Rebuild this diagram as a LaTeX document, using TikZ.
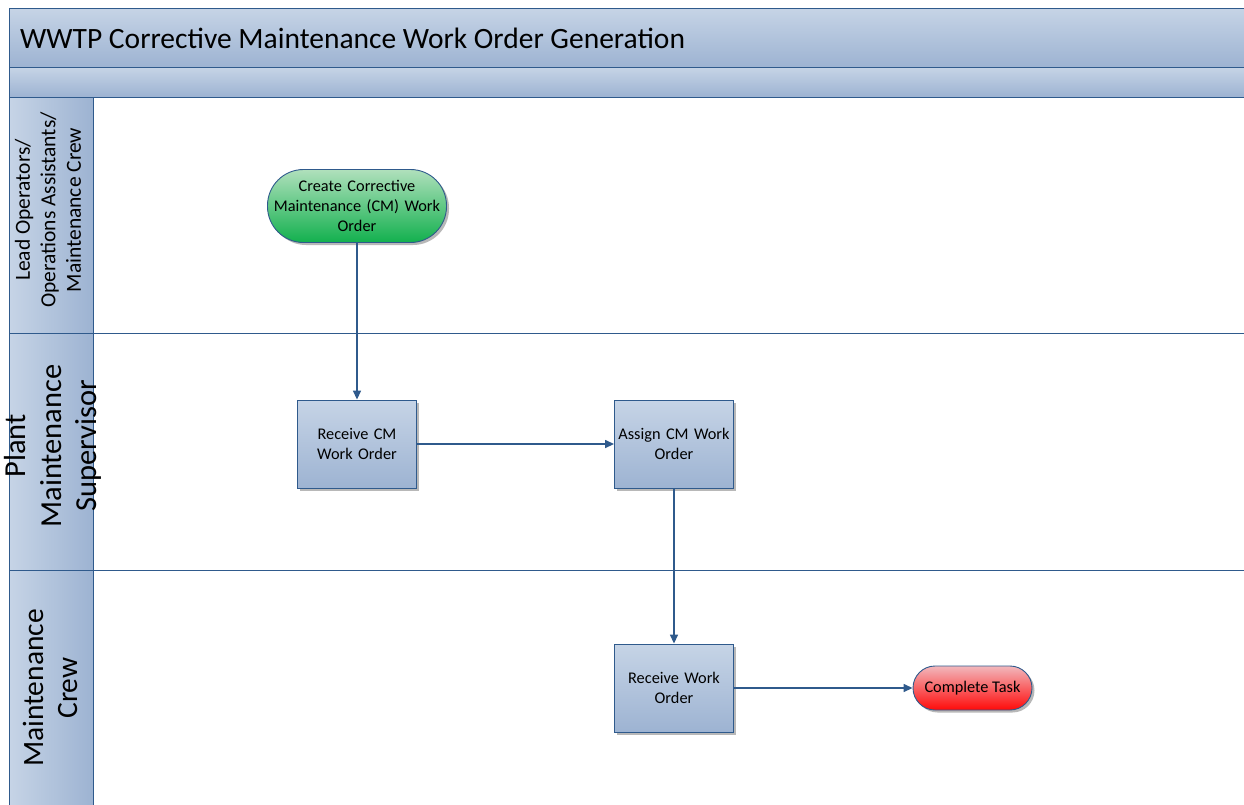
\documentclass[tikz,border=0pt]{standalone}
\usepackage{fontspec}
\setmainfont{Carlito}
\usetikzlibrary{shadows,arrows.meta,positioning}
\definecolor{edgeblue}{HTML}{2F5A8C}
\definecolor{bandtop}{HTML}{C6D4E6}
\definecolor{bandbot}{HTML}{9DB3D2}
\definecolor{greentop}{HTML}{B0E0BC}
\definecolor{greenbot}{HTML}{12B04E}
\definecolor{redtop}{HTML}{F2B8BC}
\definecolor{redbot}{HTML}{FF0A0A}
\tikzset{
  band/.style={draw=edgeblue,line width=1pt,top color=bandtop,bottom color=bandbot},
  lanehead/.style={draw=edgeblue,line width=1pt,left color=bandtop,right color=bandbot},
  laneline/.style={draw=edgeblue,line width=1pt},
  task/.style={draw=edgeblue,line width=0.9pt,top color=bandtop,bottom color=bandbot,
    minimum width=119pt,minimum height=88pt,inner sep=1pt,align=center,text width=117pt,
    font=\fontsize{16.3}{20}\selectfont,
    drop shadow={shadow xshift=2.5pt,shadow yshift=-2.5pt,fill=black!35,opacity=0.8}},
  startnode/.style={draw=edgeblue,line width=0.9pt,top color=greentop,bottom color=greenbot,
    rounded corners=36pt,minimum width=179pt,minimum height=73pt,align=center,text width=174pt,inner sep=1pt,
    font=\fontsize{16.3}{20}\selectfont,
    drop shadow={shadow xshift=2.5pt,shadow yshift=-2.5pt,fill=black!35,opacity=0.8}},
  endnode/.style={draw=edgeblue,line width=0.9pt,top color=redtop,bottom color=redbot,
    rounded corners=22pt,minimum width=119pt,minimum height=44pt,align=center,inner sep=1pt,
    font=\fontsize{16.3}{20}\selectfont,
    drop shadow={shadow xshift=2.5pt,shadow yshift=-2.5pt,fill=black!35,opacity=0.8}},
  flow/.style={draw=edgeblue,line width=1.5pt,-{Triangle[length=9pt,width=8pt]}},
}
\begin{document}
\begin{tikzpicture}[x=1pt,y=-1pt]
\useasboundingbox (0,0) rectangle (1244,804);
\clip (0,0) rectangle (1244,804);
% bands
\path[band] (9,8) rectangle (1260,67);
\path[band] (9,67) rectangle (1260,97);
\node[anchor=base west,font=\fontsize{29.5}{34}\selectfont,inner sep=0pt] (title) at (20,48) {WWTP Corrective Maintenance Work Order Generation};
% lane headers
\path[lanehead] (9,97) rectangle (93,333);
\path[lanehead] (9,333) rectangle (93,570);
\path[lanehead] (9,570) rectangle (93,820);
\draw[laneline] (93,97) -- (1260,97);
\draw[laneline] (93,333) -- (1260,333);
\draw[laneline] (93,570) -- (1260,570);
\node[rotate=90,align=center,font=\fontsize{21.5}{25.5}\selectfont,inner sep=0pt] (lane1) at (48,210) {Lead Operators/\\Operations Assistants/\\Maintenance Crew};
\node[rotate=90,align=center,font=\fontsize{30.5}{35.5}\selectfont,inner sep=0pt] (lane2) at (53,446) {Plant\\Maintenance\\Supervisor};
\node[rotate=90,align=center,font=\fontsize{29.5}{34}\selectfont,inner sep=0pt] (lane3) at (50,688) {Maintenance\\Crew};
% nodes
\node[startnode] (create) at (357,206) {Create Corrective\\Maintenance (CM) Work\\Order};
\node[task] (recv) at (357,444) {Receive CM\\Work Order};
\node[task] (assign) at (674,444) {Assign CM Work\\Order};
\node[task] (rwo) at (674,688) {Receive Work\\Order};
\node[endnode] (done) at (972.5,688) {Complete Task};
% edges
\draw[flow] (create.south) -- (recv.north);
\draw[flow] (recv.east) -- (assign.west);
\draw[flow] (assign.south) -- (rwo.north);
\draw[flow] (rwo.east) -- (done.west);
\end{tikzpicture}
\end{document}
